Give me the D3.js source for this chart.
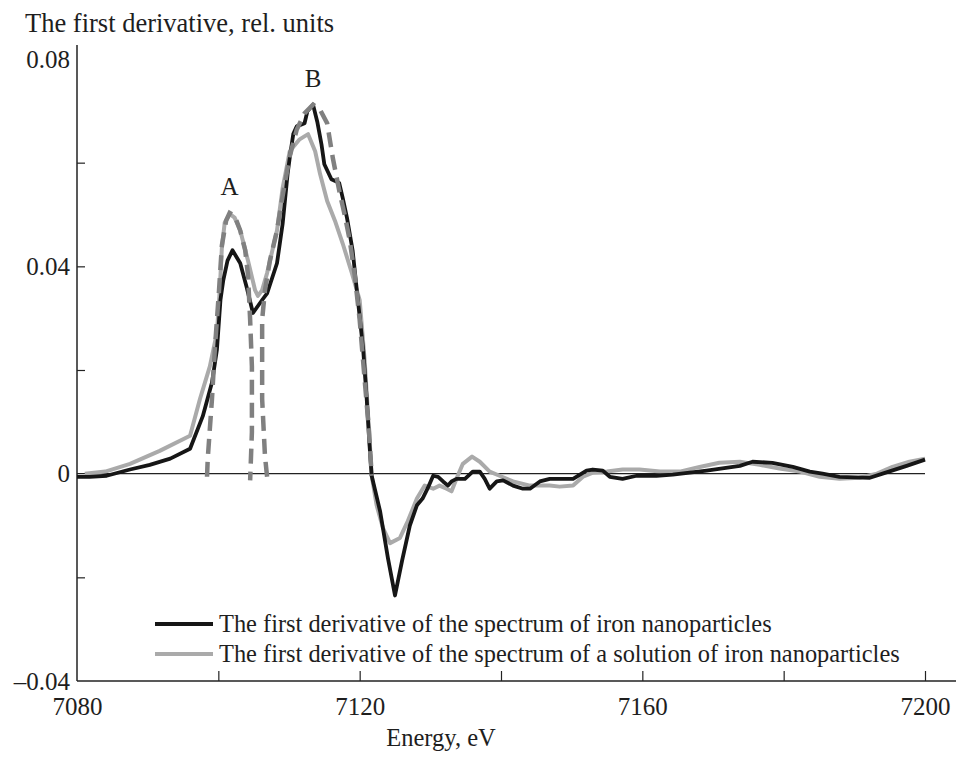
<!DOCTYPE html>
<html lang="en">
<head>
  <meta charset="utf-8">
  <title>First derivative of XANES spectra</title>
  <script src="https://d3js.org/d3.v7.min.js"></script>
  <style>
    body { margin: 0; background: #fff; }
    svg text { font-family: "Liberation Serif", "Times New Roman", serif; fill: #1e1e1e; }
    .axis .domain { display: none; }
    .axis line { stroke: #222; stroke-width: 1.2; }
  </style>
</head>
<body>
<script>
  // energy (eV) and first derivative values
  var ironE = [7080, 7081.8, 7084.2, 7087.5, 7090.3, 7093.2, 7096.0, 7097.8, 7099.1, 7099.8, 7100.3, 7100.7,
    7101.3, 7102.0, 7103.1, 7104.0, 7104.9, 7106.2, 7106.9, 7108.3, 7109.1, 7109.8, 7110.1, 7110.6, 7111.1,
    7112.2, 7112.6, 7113.4, 7114.0, 7114.6, 7115.0, 7116.0, 7117.1, 7117.6, 7118.2, 7119.0, 7119.7, 7120.5,
    7121.0, 7121.4, 7121.7, 7122.9, 7124.0, 7125.0, 7126.0, 7127.1, 7128.1, 7128.9, 7129.6, 7130.4, 7131.1,
    7131.8, 7132.5, 7133.0, 7133.7, 7134.9, 7136.0, 7137.0, 7137.7, 7138.4, 7139.4, 7140.3, 7141.7, 7143.1,
    7144.1, 7145.5, 7146.9, 7150.2, 7152.1, 7153.0, 7154.4, 7155.4, 7157.2, 7159.2, 7162.0, 7164.3, 7169.1,
    7173.8, 7175.6, 7178.4, 7181.3, 7183.7, 7185.5, 7187.9, 7192.2, 7194.0, 7197.4, 7200];
  var ironD = [-0.6, -0.6, -0.4, 0.8, 1.7, 2.9, 4.8, 11.1, 17.6, 23.9, 33.5, 37.3,
    41.1, 43.1, 40.6, 36.0, 31.0, 33.5, 34.8, 40.6, 48.2, 57.8, 60.9, 65.5, 67.0,
    67.6, 69.9, 71.2, 67.9, 63.5, 59.7, 56.8, 56.1, 53.2, 49.4, 43.1, 34.1, 23.9,
    14.4, 5.4, -0.4, -7.3, -16.3, -23.5, -16.8, -10.0, -6.1, -4.8, -2.9, -0.4, -0.6,
    -1.5, -2.3, -1.5, -1.0, -1.0, 0.4, 0.4, -1.0, -2.9, -1.5, -1.3, -2.3, -2.9,
    -2.9, -1.5, -1.0, -1.0, 0.6, 0.8, 0.6, -0.6, -1.0, -0.4, -0.4, -0.2, 0.6,
    1.5, 2.3, 2.1, 1.3, 0.4, 0.0, -0.6, -0.8, 0.0, 1.5, 2.7];

  var solE = [7081.1, 7084.0, 7087.5, 7091.7, 7096.0, 7097.4, 7098.8, 7099.8, 7100.2, 7100.5, 7100.9, 7101.6,
    7102.3, 7103.1, 7104.2, 7105.2, 7105.6, 7106.2, 7106.9, 7108.3, 7109.1, 7110.1, 7111.5, 7112.7, 7113.7,
    7114.4, 7115.4, 7116.5, 7117.6, 7118.9, 7120.0, 7120.7, 7121.4, 7121.7, 7122.4, 7123.3, 7124.3, 7125.7,
    7126.8, 7128.1, 7129.2, 7130.4, 7131.3, 7132.3, 7133.0, 7133.7, 7134.6, 7135.9, 7137.0, 7138.4, 7139.8,
    7141.7, 7144.1, 7146.9, 7148.3, 7150.2, 7151.6, 7153.0, 7155.0, 7157.2, 7159.6, 7162.5, 7165.3, 7168.1,
    7170.9, 7173.8, 7176.6, 7179.4, 7182.3, 7185.1, 7187.9, 7190.7, 7193.2, 7195.4, 7197.8, 7200];
  var solD = [0.0, 0.4, 1.9, 4.4, 7.3, 14.4, 20.7, 27.2, 35.4, 43.6, 48.4, 50.1,
    49.4, 46.9, 41.1, 35.4, 34.3, 35.4, 38.7, 46.9, 55.1, 62.2, 64.5, 65.5, 62.2,
    57.8, 52.6, 48.8, 44.4, 38.7, 33.5, 22.0, 6.7, -0.4, -6.1, -10.5, -13.4, -12.4,
    -9.2, -4.8, -2.3, -2.9, -2.3, -2.9, -3.4, -1.0, 1.9, 3.3, 2.3, 0.4, -0.4,
    -1.5, -2.3, -2.3, -2.5, -2.3, -0.6, 0.2, 0.4, 0.8, 0.8, 0.4, 0.4, 1.3,
    2.1, 2.3, 1.7, 1.0, 0.4, -0.6, -1.0, -0.8, 0.0, 1.3, 2.3, 2.9];

  // dashed components (peaks A and B)
  var peakAE = [7098.4, 7098.5, 7099.1, 7099.5, 7100.1, 7100.5, 7101.1, 7101.6, 7102.3, 7103.1, 7103.8,
    7104.2, 7104.5, 7104.75, 7104.75, 7104.5];
  var peakAD = [-0.6, 2.9, 14.4, 23.9, 35.4, 44.0, 48.8, 50.3, 49.8, 46.9, 43.1,
    38.3, 29.7, 20.7, 8.0, -1.3];
  var peakBE = [7106.9, 7106.6, 7106.2, 7106.2, 7106.6, 7107.3, 7108.3, 7109.1, 7110.1, 7111.1, 7112.2,
    7113.4, 7114.4, 7115.4, 7116.2, 7117.2, 7117.9, 7118.6, 7119.3, 7120.0, 7120.7, 7121.3, 7121.7];
  var peakBD = [-0.6, 3.4, 14.4, 29.7, 35.4, 41.1, 46.9, 53.6, 61.2, 66.4, 69.5,
    71.2, 70.2, 67.6, 60.9, 54.0, 49.8, 45.0, 38.3, 29.7, 18.2, 8.6, -0.4];

  var xTicks = [7080, 7100, 7120, 7140, 7160, 7180, 7200];
  var xLabels = [7080, 7120, 7160, 7200];
  var yTicks = [-0.04, -0.02, 0, 0.02, 0.04, 0.06, 0.08];
  var yLabels = [-0.04, 0, 0.04, 0.08];

  var legendNames = ["The first derivative of the spectrum of iron nanoparticles",
    "The first derivative of the spectrum of a solution of iron nanoparticles"];

  var width = 956, height = 758;

  var svg = d3.select("body").append("svg")
    .attr("width", width)
    .attr("height", height);

  var x = d3.scaleLinear().domain([7080, 7200]).range([77, 925]);
  var y = d3.scaleLinear().domain([-0.04, 0.08]).range([681, 59]);

  function pts(es, ds) {
    return es.map(function(e, i) { return [e, ds[i] / 1000]; });
  }
  var line = d3.line()
    .x(function(d) { return x(d[0]); })
    .y(function(d) { return y(d[1]); });

  // axes lines
  svg.append("line")
    .attr("x1", x(7080)).attr("x2", 956)
    .attr("y1", y(-0.04)).attr("y2", y(-0.04))
    .attr("stroke", "#222").attr("stroke-width", 1.5);
  svg.append("line")
    .attr("x1", x(7080)).attr("x2", x(7080))
    .attr("y1", 45).attr("y2", y(-0.04))
    .attr("stroke", "#222").attr("stroke-width", 1.5);
  // zero line
  svg.append("line")
    .attr("x1", x(7080)).attr("x2", x(7200))
    .attr("y1", y(0)).attr("y2", y(0))
    .attr("stroke", "#222").attr("stroke-width", 1.2);

  // x axis, ticks pointing up
  var xAxis = svg.append("g").attr("class", "axis")
    .attr("transform", "translate(0," + y(-0.04) + ")")
    .call(d3.axisBottom(x).tickValues(xTicks).tickSizeInner(-10).tickSizeOuter(0)
      .tickFormat(function(d) { return xLabels.indexOf(d) >= 0 ? d : ""; }));
  xAxis.selectAll(".tick text")
    .attr("y", 16).attr("dy", "0.71em")
    .style("font-size", "25px");
  xAxis.selectAll(".tick")
    .filter(function(d) { return d === 7080; })
    .select("line").remove();

  // y axis, ticks pointing right
  var yAxis = svg.append("g").attr("class", "axis")
    .attr("transform", "translate(" + x(7080) + ",0)")
    .call(d3.axisLeft(y).tickValues(yTicks).tickSizeInner(-8).tickSizeOuter(0)
      .tickFormat(function(d) {
        if (yLabels.indexOf(d) < 0) return "";
        if (d === 0) return "0";
        return d < 0 ? "\u2013" + d3.format(".2f")(-d) : d3.format(".2f")(d);
      }));
  yAxis.selectAll(".tick text")
    .attr("x", -7)
    .style("font-size", "25px");
  yAxis.selectAll(".tick")
    .filter(function(d) { return d === 0 || d === 0.08 || d === -0.04; })
    .select("line").remove();

  // curves
  svg.append("path")
    .datum(pts(solE, solD))
    .attr("d", line)
    .attr("fill", "none")
    .attr("stroke", "#aaaaaa")
    .attr("stroke-width", 4)
    .attr("stroke-linejoin", "round");
  svg.append("path")
    .datum(pts(ironE, ironD))
    .attr("d", line)
    .attr("fill", "none")
    .attr("stroke", "#161616")
    .attr("stroke-width", 3.8)
    .attr("stroke-linejoin", "round");
  [pts(peakAE, peakAD), pts(peakBE, peakBD)].forEach(function(p) {
    svg.append("path")
      .datum(p)
      .attr("d", line)
      .attr("fill", "none")
      .attr("stroke", "#808080")
      .attr("stroke-width", 4.5)
      .attr("stroke-dasharray", "15,8");
  });

  // peak labels
  svg.append("text").attr("x", x(7101.6)).attr("y", y(0.0537)).attr("text-anchor", "middle")
    .style("font-size", "25px").text("A");
  svg.append("text").attr("x", x(7113.4)).attr("y", y(0.0746)).attr("text-anchor", "middle")
    .style("font-size", "25px").text("B");

  // axis titles
  svg.append("text").attr("x", 25).attr("y", 32)
    .style("font-size", "26.5px").text("The first derivative, rel. units");
  svg.append("text").attr("x", 441).attr("y", 746).attr("text-anchor", "middle")
    .style("font-size", "24.5px").text("Energy, eV");

  // legend
  var legColors = ["#161616", "#aaaaaa"];
  var leg = svg.append("g");
  legendNames.forEach(function(name, i) {
    var ly = 624 + i * 30;
    leg.append("line")
      .attr("x1", 155).attr("x2", 213)
      .attr("y1", ly).attr("y2", ly)
      .attr("stroke", legColors[i]).attr("stroke-width", 4);
    leg.append("text")
      .attr("x", 219).attr("y", ly + 8)
      .style("font-size", "24.4px")
      .text(name);
  });
</script>
</body>
</html>
